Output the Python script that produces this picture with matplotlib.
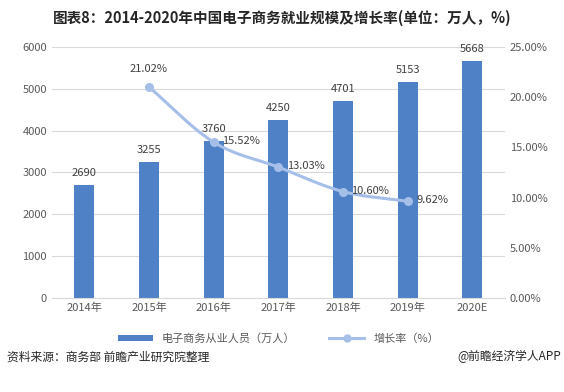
import numpy as np
import matplotlib.pyplot as plt

plt.rcParams['font.family'] = ['Noto Sans CJK SC', 'DejaVu Sans']

years = ["2014年", "2015年", "2016年", "2017年", "2018年", "2019年", "2020E"]
workers = [2690, 3255, 3760, 4250, 4701, 5153, 5668]
rate_years = [1, 2, 3, 4, 5]  # index into years (2015..2019)
rates = [21.02, 15.52, 13.03, 10.60, 9.62]


def smooth(xs, ys, n=20):
    # Catmull-Rom curve through the points, like Excel's smoothed line
    xs = np.asarray(xs, float)
    ys = np.asarray(ys, float)
    px = np.concatenate([[2 * xs[0] - xs[1]], xs, [2 * xs[-1] - xs[-2]]])
    py = np.concatenate([[2 * ys[0] - ys[1]], ys, [2 * ys[-1] - ys[-2]]])
    ox, oy = [], []
    t = np.linspace(0, 1, n)
    for i in range(1, len(px) - 2):
        for p, o in ((px, ox), (py, oy)):
            p0, p1, p2, p3 = p[i - 1], p[i], p[i + 1], p[i + 2]
            o.extend(0.5 * (2 * p1 + (-p0 + p2) * t + (2 * p0 - 5 * p1 + 4 * p2 - p3) * t ** 2
                            + (-p0 + 3 * p1 - 3 * p2 + p3) * t ** 3))
    return ox, oy


fig = plt.figure(figsize=(5.64, 3.92), dpi=100)
ax = fig.add_axes([0.092, 0.24, 0.803, 0.64])
x = np.arange(len(years))

bar_color = "#4f81c6"
line_color = "#a5bfe9"
bars = ax.bar(x, workers, width=0.31, color=bar_color, zorder=2, label="电子商务从业人员（万人）")
for xi, v in zip(x, workers):
    ax.text(xi, v + 170, str(v), ha="center", va="bottom", fontsize=8, color="#404040")

ax.set_ylim(0, 6000)
ax.set_yticks(range(0, 6001, 1000))
ax.set_xlim(-0.5, len(years) - 0.5)
ax.set_xticks(x)
ax.set_xticklabels(years)
ax.grid(axis="y", color="#d9d9d9", linewidth=0.8, zorder=0)
ax.tick_params(length=0, labelsize=8, colors="#595959")
for s in ["top", "left", "right"]:
    ax.spines[s].set_visible(False)
ax.spines["bottom"].set_color("#d9d9d9")

ax2 = ax.twinx()
ax2.set_ylim(0, 25)
ax2.set_yticks(range(0, 26, 5))
ax2.set_yticklabels([f"{v:.2f}%" for v in range(0, 26, 5)])
ax2.tick_params(length=0, labelsize=8, colors="#595959")
for s in ax2.spines.values():
    s.set_visible(False)

sx, sy = smooth(rate_years, rates)
ax2.plot(sx, sy, color=line_color, linewidth=2.2, zorder=3)
ax2.plot(rate_years, rates, color=line_color, marker="o", markersize=5.5,
         linestyle="none", zorder=4)
ax2.text(rate_years[0], rates[0] + 1.3, f"{rates[0]:.2f}%", ha="center", va="bottom", fontsize=8, color="#404040")
for xi, v in zip(rate_years[1:], rates[1:]):
    ax2.text(xi + 0.13, v + 0.1, f"{v:.2f}%", ha="left", va="center", fontsize=8, color="#404040")

proxy_line, = ax.plot([], [], color=line_color, linewidth=2.2, marker="o", markersize=5, label="增长率（%）")
ax.legend(handles=[bars, proxy_line], loc="upper center", bbox_to_anchor=(0.5, -0.1), ncol=2,
          frameon=False, fontsize=8, handlelength=3.2, handleheight=0.5, columnspacing=3, labelcolor="#595959")

fig.text(0.5, 0.955, "图表8：2014-2020年中国电子商务就业规模及增长率(单位：万人，%)", ha="center", va="center",
         fontsize=10.5, fontweight="bold", color="#262626")
fig.text(0.012, 0.09, "资料来源：商务部 前瞻产业研究院整理", ha="left", va="center", fontsize=8.5, color="#262626")
fig.text(0.995, 0.09, "@前瞻经济学人APP", ha="right", va="center", fontsize=8.5, color="#262626")

fig.savefig("out.png", dpi=100)
